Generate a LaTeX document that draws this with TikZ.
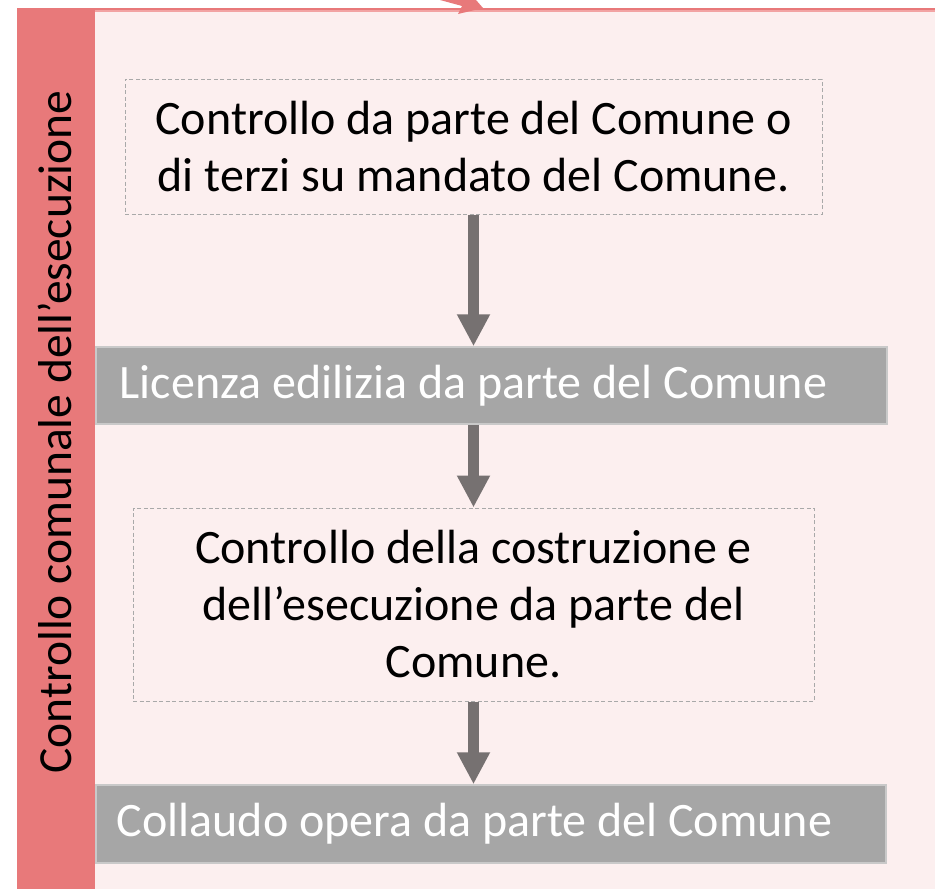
\documentclass[tikz,border=0pt]{standalone}
\usepackage{fontspec}
\setmainfont{Carlito}
\usetikzlibrary{arrows.meta}
\definecolor{bandred}{HTML}{E8797A}
\definecolor{lightred}{HTML}{F2A3A3}
\definecolor{panelpink}{HTML}{FCEFEF}
\definecolor{boxgray}{HTML}{A6A6A6}
\definecolor{boxedge}{HTML}{C9C9C9}
\definecolor{arrowgray}{HTML}{767171}
\definecolor{dashgray}{HTML}{A9A9A9}
\tikzset{
  dashbox/.style={draw=dashgray, line width=1pt, dash pattern=on 4pt off 2.5pt,
    fill=panelpink, rectangle, inner sep=0pt, align=center,
    font=\fontsize{48}{57}\selectfont, text=black},
  graybox/.style={draw=boxedge, line width=1.5pt, fill=boxgray, rectangle,
    inner sep=0pt, anchor=west,
    font=\fontsize{48}{57}\selectfont, text=white},
  flowarrow/.style={draw=arrowgray, line width=11pt,
    -{Triangle[width=31pt,length=32pt,fill=arrowgray]}},
  sidelabel/.style={rotate=90, font=\fontsize{47.5}{56}\selectfont, text=black, inner sep=0pt}
}
\begin{document}
\begin{tikzpicture}[x=1pt,y=-1pt]
\useasboundingbox (0,0) rectangle (935,889);
% background panel
\fill[white] (0,0) rectangle (935,889);
\fill[panelpink] (95,8) rectangle (935,889);
\fill[lightred] (95,8) rectangle (935,11.5);
\fill[bandred] (17,8) rectangle (935,10);
\fill[bandred] (17,8) rectangle (95,889);
% partial arrowhead at top
\fill[bandred] (440,0) -- (476,0) -- (483,8) -- (458,14) -- (462,6) -- cycle;
% side label
\node[sidelabel] (side) at (55,432) {Controllo comunale dell’esecuzione};
% boxes
\node[dashbox, minimum width=697pt, minimum height=135pt] (b1) at (473.5,146.5)
  {Controllo da parte del Comune o\\di terzi su mandato del Comune.};
\node[graybox, minimum height=77pt] (b2) at (95,385.5)
  {\makebox[791pt][l]{\hspace*{24pt}Licenza edilizia da parte del Comune}};
\node[dashbox, minimum width=681pt, minimum height=193pt] (b3) at (473.5,604.5)
  {Controllo della costruzione e\\dell’esecuzione da parte del\\Comune.};
\node[graybox, minimum height=78pt] (b4) at (95,824)
  {\makebox[790pt][l]{\hspace*{21pt}Collaudo opera da parte del Comune}};
% arrows
\draw[flowarrow] (b1.south) -- (b1.south |- b2.north);
\draw[flowarrow] (b1.south |- b2.south) -- (b3.north);
\draw[flowarrow] (b3.south) -- (b3.south |- b4.north);
\end{tikzpicture}
\end{document}
